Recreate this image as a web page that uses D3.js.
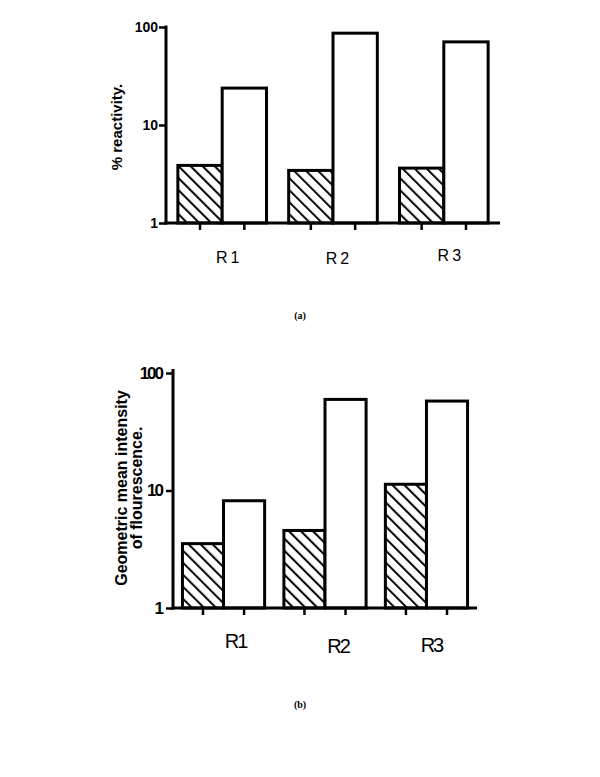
<!DOCTYPE html>
<html>
<head>
<meta charset="utf-8">
<script src="https://cdn.jsdelivr.net/npm/d3@7"></script>
<style>
body { margin: 0; background: #fff; }
svg { display: block; }
</style>
</head>
<body>
<div id="chart"></div>
<script>
// data
var groups = ["R1", "R2", "R3"];
var seriesKeys = ["hatched", "open"];
var reactivityHatched = [3.87, 3.44, 3.63];
var reactivityOpen = [23.8, 86.5, 70.5];
var intensityHatched = [3.53, 4.57, 11.3];
var intensityOpen = [8.18, 59.6, 57.7];
var yTicks = [1, 10, 100];

var svg = d3.select("#chart").append("svg")
    .attr("width", 600).attr("height", 777);

var defs = svg.append("defs");
var pat = defs.append("pattern")
    .attr("id", "hatch")
    .attr("patternUnits", "userSpaceOnUse")
    .attr("width", 8.5).attr("height", 8.5)
    .attr("patternTransform", "rotate(-45)");
pat.append("rect").attr("width", 8.5).attr("height", 8.5).attr("fill", "#fff");
pat.append("line").attr("x1", 2).attr("y1", 0).attr("x2", 2).attr("y2", 8.5)
    .attr("stroke", "#000").attr("stroke-width", 2);

function drawPanel(cfg) {
    var g = svg.append("g");
    var y = d3.scaleLog().domain([1, 100]).range([cfg.y0, cfg.y1]);
    var x = d3.scaleBand().domain(groups).range([cfg.x0, cfg.x1])
        .paddingInner(cfg.padIn).paddingOuter(cfg.padOut);
    var xs = d3.scaleBand().domain(seriesKeys).range([0, x.bandwidth()]);

    var rows = groups.map(function(d, i) {
        return {grp: d, vals: [cfg.hatched[i], cfg.open[i]]};
    });

    var grp = g.selectAll(".grp").data(rows).enter().append("g")
        .attr("transform", function(d) { return "translate(" + x(d.grp) + ",0)"; });

    grp.selectAll("rect").data(function(d) {
        return d.vals.map(function(v, j) { return {key: seriesKeys[j], v: v}; });
    }).enter().append("rect")
        .attr("x", function(d) { return xs(d.key); })
        .attr("y", function(d) { return y(d.v); })
        .attr("width", xs.bandwidth())
        .attr("height", function(d) { return y(1) - y(d.v); })
        .attr("fill", function(d) { return d.key == "hatched" ? "url(#hatch)" : "#fff"; })
        .attr("stroke", "#000").attr("stroke-width", 3);

    // x ticks under the bar centres
    grp.selectAll(".xt").data(seriesKeys).enter().append("line")
        .attr("x1", function(d) { return xs(d) + xs.bandwidth() / 2; })
        .attr("x2", function(d) { return xs(d) + xs.bandwidth() / 2; })
        .attr("y1", y(1)).attr("y2", y(1) + 7)
        .attr("stroke", "#000").attr("stroke-width", 2.5);

    // axes lines
    g.append("line").attr("x1", cfg.x0).attr("x2", cfg.x0)
        .attr("y1", cfg.y1 - cfg.topExtra).attr("y2", y(1) + 1.5)
        .attr("stroke", "#000").attr("stroke-width", 3);
    g.append("line").attr("x1", cfg.x0 - 1.5).attr("x2", cfg.x1)
        .attr("y1", y(1)).attr("y2", y(1))
        .attr("stroke", "#000").attr("stroke-width", 3);

    var ax = g.append("g").attr("transform", "translate(" + cfg.x0 + ",0)")
        .call(d3.axisLeft(y).tickValues(yTicks).tickSize(7).tickPadding(cfg.tickPad)
            .tickFormat(d3.format("d")));
    ax.select(".domain").remove();
    ax.selectAll(".tick line").attr("stroke-width", 2.5);
    ax.selectAll(".tick text")
        .attr("font-family", "Liberation Sans, Arial, sans-serif")
        .attr("font-weight", "bold")
        .attr("font-size", cfg.tickFont)
        .attr("letter-spacing", cfg.tickSpacing)
        .attr("fill", "#000");

    // category labels
    g.selectAll(".cat").data(groups).enter().append("text")
        .attr("x", function(d, i) { return x(d) + x.bandwidth() / 2 + cfg.catDx[i]; })
        .attr("y", function(d, i) { return cfg.catY[i]; })
        .attr("text-anchor", "middle")
        .attr("font-family", "Liberation Sans, Arial, sans-serif")
        .attr("font-size", cfg.catFont)
        .attr("letter-spacing", cfg.catSpacing)
        .text(function(d) { return d; });

    // y label
    var yl = g.append("text")
        .attr("transform", "translate(" + cfg.labelX + "," + cfg.labelY + ") rotate(-90)")
        .attr("text-anchor", "middle")
        .attr("font-family", "Liberation Sans, Arial, sans-serif")
        .attr("font-size", cfg.labelFont)
        .attr("font-weight", cfg.labelWeight);
    cfg.label.forEach(function(t, i) {
        yl.append("tspan").attr("x", 0).attr("dy", i == 0 ? 0 : cfg.labelFont * 0.95).text(t);
    });

    // caption
    svg.append("text").attr("x", 300).attr("y", cfg.capY)
        .attr("text-anchor", "middle")
        .attr("font-family", "Liberation Serif, Times New Roman, serif")
        .attr("font-weight", "bold").attr("font-size", 10)
        .text(cfg.caption);
}

drawPanel({
    hatched: reactivityHatched, open: reactivityOpen,
    x0: 166, x1: 500, y0: 223, y1: 27, topExtra: 1.5,
    padIn: 0.2, padOut: 0.107,
    tickFont: 14, tickSpacing: 0, tickPad: 1,
    catFont: 16, catSpacing: 3, catY: [263, 264, 261], catDx: [7, 6, 7],
    label: ["% reactivity."], labelX: 122, labelY: 127, labelFont: 15, labelWeight: "bold",
    caption: "(a)", capY: 319
});

drawPanel({
    hatched: intensityHatched, open: intensityOpen,
    x0: 173, x1: 477, y0: 608, y1: 373, topExtra: 4,
    padIn: 0.19, padOut: 0.093,
    tickFont: 17, tickSpacing: -2, tickPad: 4,
    catFont: 20, catSpacing: -2, catY: [648, 653, 652], catDx: [12, 13, 5],
    label: ["Geometric mean intensity", "of flourescence."], labelX: 127, labelY: 488,
    labelFont: 16, labelWeight: "bold",
    caption: "(b)", capY: 708
});
</script>
</body>
</html>
